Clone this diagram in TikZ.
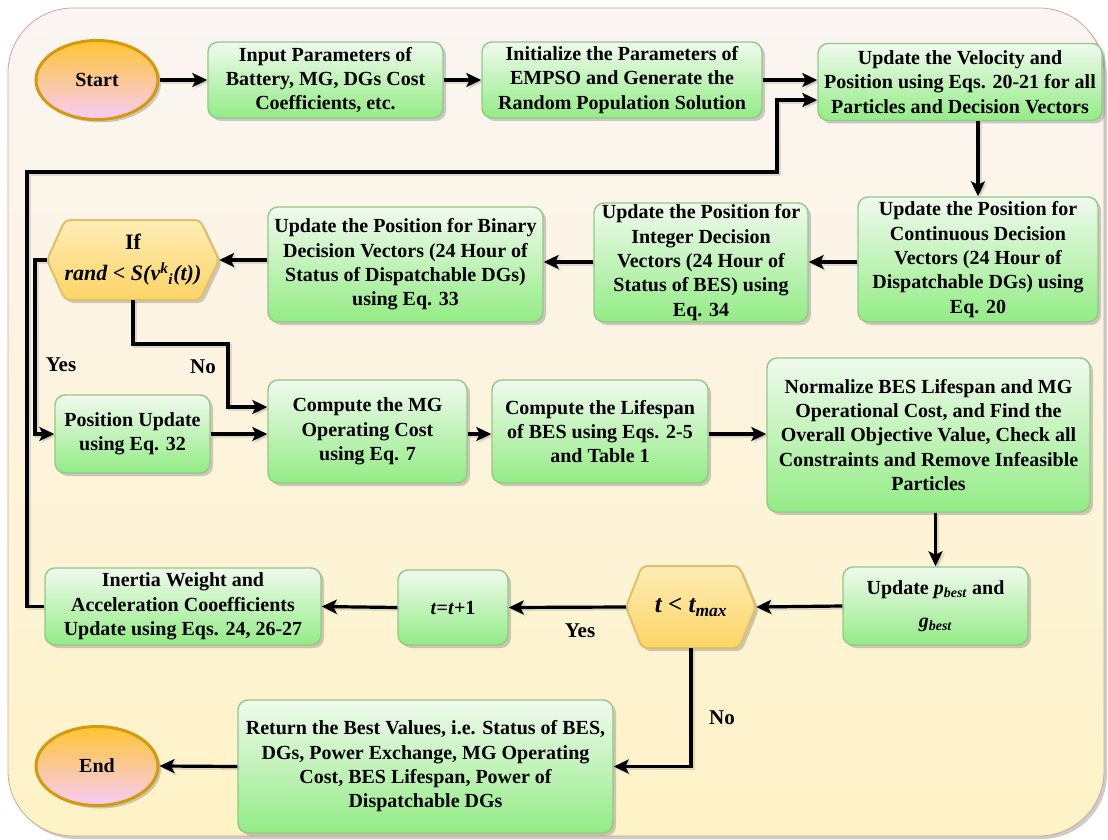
\documentclass[tikz,border=0pt]{standalone}
\usepackage{fontspec}
\setmainfont{Liberation Serif}
\usetikzlibrary{arrows.meta,shapes.geometric,shadows}
\definecolor{bgtop}{HTML}{FBF5F4}
\definecolor{bgmid}{HTML}{FBE8D9}
\definecolor{bgbot}{HTML}{FEF3C6}
\definecolor{bgline}{HTML}{D9A095}
\definecolor{gtop}{HTML}{F0FAEE}
\definecolor{gmid}{HTML}{BCF3B1}
\definecolor{gbot}{HTML}{93EC85}
\definecolor{gline}{HTML}{93C888}
\definecolor{htop}{HTML}{FDEDB6}
\definecolor{hbot}{HTML}{FDD465}
\definecolor{hline}{HTML}{DFC067}
\definecolor{etop}{HTML}{FEC532}
\definecolor{emid}{HTML}{FCC9A0}
\definecolor{ebot}{HTML}{F7CBF8}
\definecolor{eline}{HTML}{D49A0C}
\begin{document}
\begin{tikzpicture}[x=1pt,y=-1pt,
  shadowed/.style={drop shadow={shadow xshift=3pt,shadow yshift=-3pt,fill=black!55,opacity=0.35}},
  txt/.style={font=\fontsize{20}{24.3}\selectfont\bfseries},
  gbox/.style={rectangle,rounded corners=10pt,draw=gline,line width=1.4pt,
    top color=gtop,middle color=gmid,bottom color=gbot,shadowed,txt,align=center,inner sep=1pt},
  hexshape/.style={rounded corners=5pt,draw=hline,line width=2pt,top color=htop,bottom color=hbot,shadowed},
  hexnode/.style={rectangle,inner sep=0pt,txt,align=center},
  term/.style={ellipse,draw=eline,line width=3pt,top color=etop,middle color=emid,bottom color=ebot,
    shadowed,txt,minimum width=122pt,minimum height=79pt,inner sep=0pt},
  arr/.style={line width=3.2pt,-{Stealth[length=15pt,width=14pt,inset=3.5pt]},
    preaction={draw=black!40,opacity=0.3,line width=3.2pt,transform canvas={shift={(2pt,-2pt)}}}},
  lbl/.style={font=\fontsize{21}{24}\selectfont\bfseries}
]
\useasboundingbox (0,0) rectangle (1108,840);
% background
\path[drop shadow={shadow xshift=3pt,shadow yshift=-3pt,fill=black!50,opacity=0.4},
  top color=bgtop,middle color=bgmid,bottom color=bgbot,draw=bgline,line width=0.8pt,rounded corners=65pt]
  (8,8) rectangle (1104,836);

% row 1
\node[term] (start) at (97,80) {Start};
\node[gbox,minimum width=235pt,minimum height=76pt] (b1) at (325.5,80) {Input Parameters of\\Battery, MG, DGs Cost\\Coefficients, etc.};
\node[gbox,minimum width=280pt,minimum height=76pt] (b2) at (622,80) {Initialize the Parameters of\\EMPSO and Generate the\\Random Population Solution};
\node[gbox,minimum width=284pt,minimum height=77pt] (b3) at (960,82) {Update the Velocity and\\Position using Eqs. 20-21 for all\\Particles and Decision Vectors};

% row 2
\node[gbox,minimum width=240pt,minimum height=125pt] (b4) at (978,259.5) {Update the Position for\\Continuous Decision\\Vectors (24 Hour of\\Dispatchable DGs) using\\Eq. 20};
\node[gbox,minimum width=214pt,minimum height=119pt] (b5) at (701,262.5) {Update the Position for\\Integer Decision\\Vectors (24 Hour of\\Status of BES) using\\Eq. 34};
\node[gbox,minimum width=275pt,minimum height=115pt] (b6) at (405.5,264.5) {Update the Position for Binary\\Decision Vectors (24 Hour of\\Status of Dispatchable DGs)\\using Eq. 33};
\path[hexshape] (47,260) -- (65,220) -- (200,220) -- (219,260) -- (200,300) -- (65,300) -- cycle;
\node[hexnode,minimum width=172pt,minimum height=80pt,font=\fontsize{22}{31}\selectfont\bfseries] (if) at (133,260)
  {If\\\itshape rand {\upshape<} S(v\textsuperscript{k}\textsubscript{i}(t))};

% row 3
\node[gbox,minimum width=155pt,minimum height=78pt] (pos) at (132.5,434) {Position Update\\using Eq. 32};
\node[gbox,minimum width=199pt,minimum height=103pt] (comp) at (367.5,431.5) {Compute the MG\\Operating Cost\\using Eq. 7};
\node[gbox,minimum width=216pt,minimum height=103pt] (life) at (600,431.5) {Compute the Lifespan\\of BES using Eqs. 2-5\\and Table 1};
\node[gbox,minimum width=323pt,minimum height=154pt] (norm) at (928.5,435) {Normalize BES Lifespan and MG\\Operational Cost, and Find the\\Overall Objective Value, Check all\\Constraints and Remove Infeasible\\Particles};

% row 4
\node[gbox,minimum width=185pt,minimum height=78pt,font=\fontsize{20}{33}\selectfont\bfseries] (pb) at (935.5,606)
  {Update \textit{p}\textsubscript{\textit{best}} and\\\textit{g}\textsubscript{\textit{best}}};
\path[hexshape] (626,607) -- (642,566) -- (739,566) -- (756,607) -- (739,648) -- (642,648) -- cycle;
\node[hexnode,minimum width=130pt,minimum height=82pt,font=\fontsize{25}{28}\selectfont\bfseries\itshape] (tc) at (691,607)
  {t {\upshape<} t\textsubscript{max}};
\node[gbox,minimum width=110pt,minimum height=75pt] (tp) at (453,607.5) {\textit{t}=\textit{t}+1};
\node[gbox,minimum width=276pt,minimum height=77pt] (iner) at (183,606.5) {Inertia Weight and\\Acceleration Cooefficients\\Update using Eqs. 24, 26-27};

% row 5
\node[gbox,minimum width=375pt,minimum height=133pt] (ret) at (425.5,766.5) {Return the Best Values, i.e. Status of BES,\\DGs, Power Exchange, MG Operating\\Cost, BES Lifespan, Power of\\Dispatchable DGs};
\node[term] (end) at (97,766) {End};

% helper coordinates
\coordinate (r2) at (0,262);
\coordinate (r3) at (0,434);
\coordinate (yx) at (35,0);
\coordinate (nob) at (228,344);
\coordinate (noy) at (0,407);
\coordinate (lx) at (27,172);
\coordinate (ly) at (777,100);

% connectors
\draw[arr] (start.east) -- (b1.west|-start.east);
\draw[arr] (b1.east) -- (b2.west);
\draw[arr] (b2.east) -- (b3.west|-b2.east);
\draw[arr] (b4.north|-b3.south) -- (b4.north);
\draw[arr] (b4.west|-r2) -- (b5.east|-r2);
\draw[arr] (b5.west|-r2) -- (b6.east|-r2);
\draw[arr] (b6.west|-if.east) -- (if.east);
\draw[arr] (if.west) -- (if.west-|yx) |- (pos.west);
\draw[arr] (if.south) |- (nob) |- (comp.west|-noy);
\draw[arr] (pos.east|-r3) -- (comp.west|-r3);
\draw[arr] (comp.east|-r3) -- (life.west|-r3);
\draw[arr] (life.east|-r3) -- (norm.west|-r3);
\draw[arr] (pb.north|-norm.south) -- (pb.north);
\draw[arr] (pb.west) -- (tc.east);
\draw[arr] (tc.west) -- (tp.east);
\draw[arr] (tp.west) -- (iner.east);
\draw[arr] (iner.west) -| (lx) -| (ly) -- (b3.west|-ly);
\draw[arr] (tc.south) |- (ret.east);
\draw[arr] (ret.west) -- (end.east);

% labels
\node[lbl] (yes1) at (61,365) {Yes};
\node[lbl] (no1) at (203,367) {No};
\node[lbl] (yes2) at (580,631) {Yes};
\node[lbl] (no2) at (722,718) {No};
\end{tikzpicture}
\end{document}
